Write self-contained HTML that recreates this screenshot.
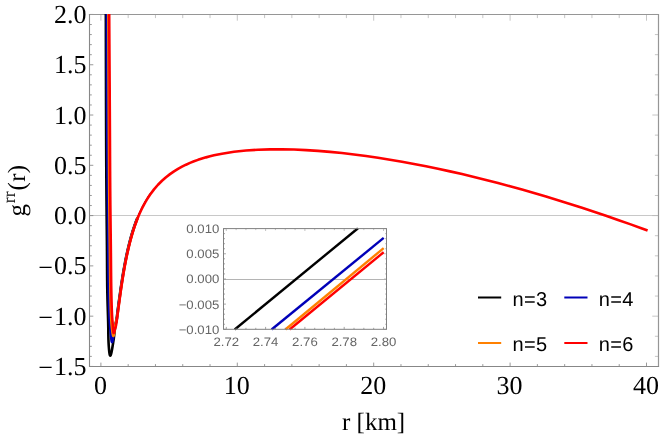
<!DOCTYPE html><html><head><meta charset="utf-8"><style>html,body{margin:0;padding:0;background:#fff}svg{display:block;will-change:transform}text{text-rendering:geometricPrecision}.se{font-family:"Liberation Serif",serif}.sa{font-family:"Liberation Sans",sans-serif}</style></head><body><svg width="664" height="437" viewBox="0 0 664 437">
<rect width="664" height="437" fill="#fff"/>
<line x1="89.5" x2="658.5" y1="215.5" y2="215.5" stroke="#c8c8c8" stroke-width="1"/>
<defs><clipPath id="c"><rect x="89.5" y="14.0" width="569.0" height="352.5"/></clipPath>
<clipPath id="ci"><rect x="223.5" y="227.6" width="163" height="103.2"/></clipPath></defs>
<path d="M100.90 366.5v-3.9M128.18 366.5v-2.4M155.46 366.5v-2.4M182.74 366.5v-2.4M210.02 366.5v-2.4M237.30 366.5v-3.9M264.58 366.5v-2.4M291.86 366.5v-2.4M319.14 366.5v-2.4M346.42 366.5v-2.4M373.70 366.5v-3.9M400.98 366.5v-2.4M428.26 366.5v-2.4M455.54 366.5v-2.4M482.82 366.5v-2.4M510.10 366.5v-3.9M537.38 366.5v-2.4M564.66 366.5v-2.4M591.94 366.5v-2.4M619.22 366.5v-2.4M646.50 366.5v-3.9M89.5 366.45h3.8M89.5 356.40h2.3M89.5 346.34h2.3M89.5 336.28h2.3M89.5 326.23h2.3M89.5 316.17h3.8M89.5 306.11h2.3M89.5 296.06h2.3M89.5 286.00h2.3M89.5 275.94h2.3M89.5 265.88h3.8M89.5 255.83h2.3M89.5 245.77h2.3M89.5 235.71h2.3M89.5 225.66h2.3M89.5 215.60h3.8M89.5 205.54h2.3M89.5 195.49h2.3M89.5 185.43h2.3M89.5 175.37h2.3M89.5 165.31h3.8M89.5 155.26h2.3M89.5 145.20h2.3M89.5 135.14h2.3M89.5 125.09h2.3M89.5 115.03h3.8M89.5 104.97h2.3M89.5 94.92h2.3M89.5 84.86h2.3M89.5 74.80h2.3M89.5 64.75h3.8M89.5 54.69h2.3M89.5 44.63h2.3M89.5 34.57h2.3M89.5 24.52h2.3M89.5 14.46h3.8" stroke="#808080" stroke-width="0.8" fill="none"/>
<path d="M100.90 14.5v6.2M128.18 14.5v3.6M155.46 14.5v3.6M182.74 14.5v3.6M210.02 14.5v3.6M237.30 14.5v6.2M264.58 14.5v3.6M291.86 14.5v3.6M319.14 14.5v3.6M346.42 14.5v3.6M373.70 14.5v6.2M400.98 14.5v3.6M428.26 14.5v3.6M455.54 14.5v3.6M482.82 14.5v3.6M510.10 14.5v6.2M537.38 14.5v3.6M564.66 14.5v3.6M591.94 14.5v3.6M619.22 14.5v3.6M646.50 14.5v6.2M658.5 356.40h-3.6M658.5 336.28h-3.6M658.5 316.17h-6.2M658.5 296.06h-3.6M658.5 275.94h-3.6M658.5 255.83h-3.6M658.5 235.71h-3.6M658.5 215.60h-6.2M658.5 195.49h-3.6M658.5 175.37h-3.6M658.5 155.26h-3.6M658.5 135.14h-3.6M658.5 115.03h-6.2M658.5 94.92h-3.6M658.5 74.80h-3.6M658.5 54.69h-3.6M658.5 34.57h-3.6M658.5 14.46h-6.2" stroke="#b8b8b8" stroke-width="0.8" fill="none"/>
<path d="M89.5 14.5H658.5V366.5" fill="none" stroke="#969696" stroke-width="1.2" stroke-linecap="square"/>
<path d="M89.5 14.5V366.5H658.5" fill="none" stroke="#878787" stroke-width="1.1" stroke-linecap="square"/>
<g clip-path="url(#c)" fill="none" stroke-width="2.6" stroke-linejoin="round">
<path d="M105.85 4.00 L105.85 4.77 L105.85 5.54 L105.85 6.32 L105.85 7.09 L105.85 7.86 L105.85 8.63 L105.85 9.41 L105.85 10.18 L105.85 10.95 L105.85 11.72 L105.85 12.49 L105.85 13.27 L105.85 14.04 L105.85 14.81 L105.85 15.58 L105.85 16.36 L105.85 17.13 L105.85 17.90 L105.85 18.67 L105.85 19.45 L105.85 20.22 L105.85 20.99 L105.86 21.76 L105.86 22.53 L105.86 23.31 L105.86 24.08 L105.86 24.85 L105.86 25.62 L105.86 26.40 L105.86 27.17 L105.86 27.94 L105.86 28.71 L105.86 29.48 L105.87 30.26 L105.87 31.03 L105.87 31.80 L105.87 32.57 L105.87 33.34 L105.87 34.12 L105.87 34.89 L105.87 35.66 L105.88 36.43 L105.88 37.21 L105.88 37.98 L105.88 38.75 L105.88 39.52 L105.88 40.29 L105.88 41.07 L105.89 41.84 L105.89 42.61 L105.89 43.38 L105.89 44.16 L105.89 44.93 L105.89 45.70 L105.89 46.47 L105.90 47.25 L105.90 48.02 L105.90 48.79 L105.90 49.56 L105.90 50.33 L105.90 51.11 L105.91 51.88 L105.91 52.65 L105.91 53.42 L105.91 54.20 L105.91 54.97 L105.92 55.74 L105.92 56.51 L105.92 57.28 L105.92 58.06 L105.92 58.83 L105.92 59.60 L105.93 60.37 L105.93 61.15 L105.93 61.92 L105.93 62.69 L105.93 63.46 L105.94 64.24 L105.94 65.01 L105.94 65.78 L105.94 66.55 L105.94 67.33 L105.95 68.10 L105.95 68.87 L105.95 69.64 L105.95 70.41 L105.95 71.19 L105.95 71.96 L105.96 72.73 L105.96 73.50 L105.96 74.28 L105.96 75.05 L105.96 75.82 L105.97 76.59 L105.97 77.37 L105.97 78.14 L105.97 78.91 L105.97 79.68 L105.98 80.46 L105.98 81.23 L105.98 82.00 L105.98 82.77 L105.98 83.55 L105.99 84.32 L105.99 85.09 L105.99 85.86 L105.99 86.64 L105.99 87.41 L105.99 88.18 L106.00 88.95 L106.00 89.73 L106.00 90.50 L106.00 91.27 L106.00 92.04 L106.01 92.82 L106.01 93.59 L106.01 94.36 L106.01 95.13 L106.01 95.91 L106.02 96.68 L106.02 97.45 L106.02 98.22 L106.02 99.00 L106.02 99.77 L106.03 100.54 L106.03 101.31 L106.03 102.09 L106.03 102.86 L106.03 103.63 L106.04 104.40 L106.04 105.18 L106.04 105.95 L106.04 106.72 L106.05 107.49 L106.05 108.26 L106.05 109.04 L106.05 109.81 L106.05 110.58 L106.06 111.35 L106.06 112.13 L106.06 112.90 L106.06 113.67 L106.07 114.44 L106.07 115.22 L106.07 115.99 L106.07 116.76 L106.07 117.53 L106.08 118.30 L106.08 119.08 L106.08 119.85 L106.08 120.62 L106.09 121.39 L106.09 122.16 L106.09 122.94 L106.09 123.71 L106.10 124.48 L106.10 125.25 L106.10 126.03 L106.10 126.80 L106.11 127.57 L106.11 128.34 L106.11 129.11 L106.11 129.89 L106.12 130.66 L106.12 131.43 L106.12 132.20 L106.12 132.97 L106.13 133.74 L106.13 134.52 L106.13 135.29 L106.14 136.06 L106.14 136.83 L106.14 137.60 L106.14 138.37 L106.15 139.15 L106.15 139.92 L106.15 140.69 L106.16 141.46 L106.16 142.23 L106.16 143.00 L106.16 143.78 L106.17 144.55 L106.17 145.32 L106.17 146.09 L106.18 146.86 L106.18 147.63 L106.18 148.40 L106.19 149.18 L106.19 149.95 L106.19 150.72 L106.20 151.49 L106.20 152.26 L106.20 153.03 L106.21 153.80 L106.21 154.58 L106.21 155.35 L106.22 156.12 L106.22 156.89 L106.22 157.66 L106.23 158.43 L106.23 159.21 L106.23 159.98 L106.24 160.75 L106.24 161.52 L106.25 162.29 L106.25 163.06 L106.25 163.83 L106.26 164.61 L106.26 165.38 L106.27 166.15 L106.27 166.92 L106.27 167.69 L106.28 168.46 L106.28 169.24 L106.29 170.01 L106.29 170.78 L106.30 171.55 L106.30 172.32 L106.30 173.10 L106.31 173.87 L106.31 174.64 L106.32 175.41 L106.32 176.18 L106.33 176.96 L106.33 177.73 L106.34 178.50 L106.34 179.27 L106.35 180.05 L106.35 180.82 L106.36 181.59 L106.36 182.36 L106.37 183.14 L106.37 183.91 L106.38 184.68 L106.38 185.45 L106.39 186.23 L106.40 187.00 L106.40 187.77 L106.41 188.55 L106.41 189.32 L106.42 190.09 L106.42 190.87 L106.43 191.64 L106.44 192.41 L106.44 193.19 L106.45 193.96 L106.46 194.73 L106.46 195.51 L106.47 196.28 L106.47 197.06 L106.48 197.83 L106.49 198.61 L106.49 199.38 L106.50 200.15 L106.51 200.93 L106.52 201.70 L106.52 202.48 L106.53 203.25 L106.54 204.03 L106.54 204.80 L106.55 205.58 L106.56 206.35 L106.57 207.13 L106.57 207.90 L106.58 208.68 L106.59 209.45 L106.60 210.23 L106.60 211.00 L106.61 211.78 L106.62 212.55 L106.63 213.33 L106.63 214.10 L106.64 214.88 L106.65 215.65 L106.66 216.43 L106.67 217.20 L106.67 217.98 L106.68 218.75 L106.69 219.53 L106.70 220.30 L106.70 221.08 L106.71 221.85 L106.72 222.63 L106.73 223.40 L106.74 224.18 L106.74 224.95 L106.75 225.72 L106.76 226.50 L106.77 227.27 L106.77 228.05 L106.78 228.82 L106.79 229.59 L106.80 230.37 L106.81 231.14 L106.81 231.91 L106.82 232.68 L106.83 233.46 L106.83 234.23 L106.84 235.00 L106.85 235.77 L106.86 236.54 L106.86 237.32 L106.87 238.09 L106.88 238.86 L106.88 239.63 L106.89 240.40 L106.90 241.17 L106.90 241.94 L106.91 242.71 L106.92 243.48 L106.92 244.25 L106.93 245.02 L106.94 245.79 L106.94 246.55 L106.95 247.32 L106.95 248.09 L106.96 248.86 L106.96 249.62 L106.97 250.39 L106.98 251.16 L106.98 251.92 L106.99 252.69 L106.99 253.45 L107.00 254.22 L107.00 254.98 L107.00 255.75 L107.01 256.51 L107.01 257.27 L107.02 258.04 L107.02 258.80 L107.03 259.56 L107.03 260.32 L107.03 261.09 L107.04 261.85 L107.04 262.61 L107.04 263.37 L107.05 264.14 L107.05 264.90 L107.06 265.66 L107.06 266.42 L107.06 267.18 L107.07 267.95 L107.07 268.71 L107.08 269.47 L107.08 270.24 L107.09 271.00 L107.09 271.76 L107.10 272.53 L107.10 273.29 L107.11 274.06 L107.11 274.82 L107.12 275.59 L107.12 276.35 L107.13 277.12 L107.14 277.89 L107.14 278.66 L107.15 279.43 L107.16 280.20 L107.17 280.97 L107.18 281.74 L107.18 282.51 L107.19 283.28 L107.20 284.06 L107.21 284.83 L107.22 285.61 L107.23 286.38 L107.24 287.16 L107.26 287.94 L107.27 288.72 L107.28 289.50 L107.29 290.28 L107.31 291.06 L107.32 291.85 L107.33 292.63 L107.35 293.42 L107.37 294.21 L107.38 295.00 L107.40 295.79 L107.42 296.58 L107.44 297.37 L107.45 298.17 L107.47 298.96 L107.49 299.76 L107.51 300.56 L107.54 301.36 L107.56 302.17 L107.58 302.97 L107.60 303.77 L107.63 304.58 L107.65 305.38 L107.68 306.19 L107.70 306.99 L107.73 307.80 L107.75 308.60 L107.78 309.40 L107.80 310.20 L107.83 311.00 L107.85 311.80 L107.88 312.60 L107.90 313.39 L107.93 314.19 L107.95 314.98 L107.98 315.76 L108.00 316.55 L108.02 317.33 L108.05 318.11 L108.07 318.88 L108.09 319.65 L108.11 320.42 L108.13 321.18 L108.15 321.94 L108.17 322.69 L108.19 323.43 L108.20 324.18 L108.22 324.91 L108.23 325.64 L108.25 326.37 L108.26 327.09 L108.27 327.80 L108.28 328.50 L108.29 329.20 L108.30 329.89 L108.31 330.58 L108.31 331.25 L108.31 331.93 L108.32 332.61 L108.32 333.28 L108.33 333.97 L108.34 334.66 L108.34 335.36 L108.35 336.07 L108.37 336.79 L108.38 337.54 L108.40 338.30 L108.42 339.09 L108.45 339.90 L108.48 340.74 L108.52 341.60 L108.56 342.50 L108.61 343.44 L108.66 344.41 L108.73 345.42 L108.80 346.47 L108.87 347.53 L108.96 348.60 L109.05 349.65 L109.15 350.66 L109.25 351.63 L109.36 352.54 L109.48 353.36 L109.61 354.09 L109.75 354.70 L109.89 355.18 L110.04 355.51 L110.20 355.68 L110.37 355.67 L110.54 355.48 L110.72 355.12 L110.90 354.62 L111.09 353.99 L111.28 353.25 L111.47 352.41 L111.66 351.51 L111.85 350.55 L112.03 349.55 L112.21 348.54 L112.38 347.52 L112.55 346.53 L112.70 345.57 L112.85 344.65 L112.99 343.78 L113.12 342.95 L113.25 342.15 L113.36 341.38 L113.48 340.64 L113.58 339.91 L113.68 339.20 L113.78 338.49 L113.87 337.80 L113.96 337.10 L114.05 336.40 L114.14 335.69 L114.22 334.97 L114.31 334.23 L114.40 333.49 L114.48 332.73 L114.57 331.97 L114.66 331.20 L114.75 330.42 L114.84 329.64 L114.94 328.86 L115.04 328.08 L115.14 327.29 L115.25 326.51 L115.36 325.74 L115.48 324.96 L115.61 324.19 L115.74 323.43 L115.87 322.67 L116.00 321.91 L116.13 321.15 L116.26 320.39 L116.39 319.64 L116.51 318.88 L116.63 318.12 L116.75 317.36 L116.86 316.59 L116.97 315.83 L117.08 315.07 L117.18 314.30 L117.29 313.53 L117.39 312.77 L117.49 312.00 L117.59 311.23 L117.68 310.47 L117.78 309.70 L117.88 308.93 L117.98 308.16 L118.08 307.40 L118.18 306.63 L118.28 305.87 L118.38 305.10 L118.49 304.33 L118.59 303.57 L118.69 302.80 L118.80 302.04 L118.90 301.27 L119.01 300.51 L119.11 299.74 L119.22 298.98 L119.32 298.22 L119.43 297.45 L119.54 296.69 L119.64 295.92 L119.75 295.16 L119.86 294.39 L119.96 293.63 L120.07 292.86 L120.18 292.10 L120.29 291.33 L120.40 290.57 L120.51 289.80 L120.62 289.04 L120.73 288.28 L120.84 287.51 L120.95 286.75 L121.07 285.98 L121.18 285.22 L121.30 284.46 L121.41 283.69 L121.53 282.93 L121.65 282.17 L121.76 281.40 L121.88 280.64 L122.00 279.88 L122.12 279.11 L122.25 278.35 L122.37 277.59 L122.49 276.83 L122.62 276.06 L122.74 275.30 L122.87 274.54 L123.00 273.78 L123.12 273.02 L123.25 272.26 L123.38 271.49 L123.52 270.73 L123.65 269.97 L123.78 269.21 L123.92 268.45 L124.05 267.69 L124.19 266.93 L124.33 266.17 L124.47 265.41 L124.61 264.65 L124.75 263.89 L124.90 263.14 L125.04 262.38 L125.19 261.62 L125.34 260.86 L125.49 260.10 L125.64 259.35 L125.79 258.59 L125.94 257.83 L126.10 257.08 L126.26 256.32 L126.41 255.56 L126.57 254.81 L126.74 254.05 L126.90 253.30 L127.06 252.54 L127.23 251.79 L127.40 251.04 L127.57 250.28 L127.74 249.53 L127.92 248.78 L128.09 248.03 L128.27 247.27 L128.45 246.52 L129.95 240.58 L131.45 235.16 L132.95 230.20 L134.45 225.66 L135.95 221.47 L137.45 217.61" stroke="#000"/>
<path d="M137.45 217.61 L138.95 214.03 L140.45 210.71 L141.95 207.62 L143.45 204.73 L144.95 202.03 L146.45 199.50 L147.95 197.12 L149.45 194.88 L150.95 192.77" stroke="#000" stroke-width="1.2"/>
<path d="M106.88 4.00 L106.88 4.72 L106.88 5.45 L106.88 6.17 L106.89 6.90 L106.89 7.62 L106.89 8.35 L106.89 9.07 L106.89 9.79 L106.89 10.52 L106.89 11.24 L106.90 11.97 L106.90 12.69 L106.90 13.42 L106.90 14.14 L106.90 14.86 L106.90 15.59 L106.90 16.31 L106.91 17.04 L106.91 17.76 L106.91 18.49 L106.91 19.21 L106.91 19.94 L106.91 20.66 L106.91 21.38 L106.91 22.11 L106.91 22.83 L106.92 23.56 L106.92 24.28 L106.92 25.00 L106.92 25.73 L106.92 26.45 L106.92 27.18 L106.92 27.90 L106.92 28.63 L106.92 29.35 L106.93 30.07 L106.93 30.80 L106.93 31.52 L106.93 32.25 L106.93 32.97 L106.93 33.70 L106.93 34.42 L106.93 35.14 L106.93 35.87 L106.94 36.59 L106.94 37.32 L106.94 38.04 L106.94 38.77 L106.94 39.49 L106.94 40.21 L106.94 40.94 L106.94 41.66 L106.94 42.39 L106.94 43.11 L106.95 43.84 L106.95 44.56 L106.95 45.28 L106.95 46.01 L106.95 46.73 L106.95 47.46 L106.95 48.18 L106.95 48.91 L106.96 49.63 L106.96 50.36 L106.96 51.08 L106.96 51.80 L106.96 52.53 L106.96 53.25 L106.96 53.98 L106.96 54.70 L106.97 55.43 L106.97 56.15 L106.97 56.87 L106.97 57.60 L106.97 58.32 L106.97 59.05 L106.98 59.77 L106.98 60.50 L106.98 61.22 L106.98 61.95 L106.98 62.67 L106.98 63.39 L106.98 64.12 L106.99 64.84 L106.99 65.57 L106.99 66.29 L106.99 67.02 L106.99 67.74 L107.00 68.47 L107.00 69.19 L107.00 69.91 L107.00 70.64 L107.00 71.36 L107.01 72.09 L107.01 72.81 L107.01 73.54 L107.01 74.26 L107.01 74.99 L107.02 75.71 L107.02 76.44 L107.02 77.16 L107.02 77.88 L107.03 78.61 L107.03 79.33 L107.03 80.06 L107.03 80.78 L107.04 81.51 L107.04 82.23 L107.04 82.96 L107.04 83.68 L107.05 84.41 L107.05 85.13 L107.05 85.85 L107.06 86.58 L107.06 87.30 L107.06 88.03 L107.06 88.75 L107.07 89.48 L107.07 90.20 L107.07 90.93 L107.08 91.65 L107.08 92.38 L107.08 93.10 L107.09 93.82 L107.09 94.55 L107.09 95.27 L107.09 96.00 L107.10 96.72 L107.10 97.45 L107.10 98.17 L107.11 98.90 L107.11 99.62 L107.11 100.35 L107.12 101.07 L107.12 101.79 L107.13 102.52 L107.13 103.24 L107.13 103.97 L107.14 104.69 L107.14 105.42 L107.14 106.14 L107.15 106.87 L107.15 107.59 L107.15 108.32 L107.16 109.04 L107.16 109.76 L107.17 110.49 L107.17 111.21 L107.17 111.94 L107.18 112.66 L107.18 113.39 L107.19 114.11 L107.19 114.83 L107.19 115.56 L107.20 116.28 L107.20 117.01 L107.21 117.73 L107.21 118.46 L107.22 119.18 L107.22 119.90 L107.22 120.63 L107.23 121.35 L107.23 122.08 L107.24 122.80 L107.24 123.52 L107.25 124.25 L107.25 124.97 L107.25 125.70 L107.26 126.42 L107.26 127.15 L107.27 127.87 L107.27 128.59 L107.28 129.32 L107.28 130.04 L107.29 130.76 L107.29 131.49 L107.30 132.21 L107.30 132.94 L107.31 133.66 L107.31 134.38 L107.32 135.11 L107.32 135.83 L107.33 136.56 L107.33 137.28 L107.34 138.00 L107.34 138.73 L107.35 139.45 L107.35 140.17 L107.36 140.90 L107.36 141.62 L107.37 142.34 L107.37 143.07 L107.38 143.79 L107.38 144.51 L107.39 145.24 L107.39 145.96 L107.40 146.68 L107.40 147.41 L107.41 148.13 L107.41 148.86 L107.42 149.58 L107.43 150.30 L107.43 151.03 L107.44 151.75 L107.44 152.47 L107.45 153.20 L107.45 153.92 L107.46 154.64 L107.46 155.37 L107.47 156.09 L107.48 156.81 L107.48 157.54 L107.49 158.26 L107.49 158.98 L107.50 159.71 L107.50 160.43 L107.51 161.15 L107.52 161.88 L107.52 162.60 L107.53 163.32 L107.53 164.05 L107.54 164.77 L107.55 165.49 L107.55 166.22 L107.56 166.94 L107.56 167.67 L107.57 168.39 L107.58 169.11 L107.58 169.84 L107.59 170.56 L107.59 171.28 L107.60 172.01 L107.61 172.73 L107.61 173.46 L107.62 174.18 L107.62 174.90 L107.63 175.63 L107.64 176.35 L107.64 177.08 L107.65 177.80 L107.66 178.53 L107.66 179.25 L107.67 179.97 L107.67 180.70 L107.68 181.42 L107.69 182.15 L107.69 182.87 L107.70 183.60 L107.71 184.32 L107.71 185.05 L107.72 185.77 L107.73 186.50 L107.73 187.22 L107.74 187.95 L107.75 188.67 L107.75 189.40 L107.76 190.13 L107.77 190.85 L107.77 191.58 L107.78 192.30 L107.79 193.03 L107.79 193.75 L107.80 194.48 L107.81 195.21 L107.81 195.93 L107.82 196.66 L107.83 197.39 L107.83 198.11 L107.84 198.84 L107.85 199.57 L107.85 200.29 L107.86 201.02 L107.87 201.75 L107.87 202.47 L107.88 203.20 L107.89 203.93 L107.89 204.66 L107.90 205.38 L107.91 206.11 L107.91 206.84 L107.92 207.57 L107.93 208.29 L107.94 209.02 L107.94 209.75 L107.95 210.48 L107.96 211.20 L107.96 211.93 L107.97 212.66 L107.98 213.39 L107.98 214.11 L107.99 214.84 L108.00 215.57 L108.00 216.30 L108.01 217.02 L108.02 217.75 L108.02 218.48 L108.03 219.21 L108.04 219.93 L108.05 220.66 L108.05 221.39 L108.06 222.12 L108.07 222.84 L108.07 223.57 L108.08 224.30 L108.09 225.02 L108.09 225.75 L108.10 226.47 L108.11 227.20 L108.11 227.93 L108.12 228.65 L108.13 229.38 L108.13 230.10 L108.14 230.83 L108.15 231.55 L108.15 232.28 L108.16 233.00 L108.17 233.73 L108.17 234.45 L108.18 235.18 L108.19 235.90 L108.19 236.62 L108.20 237.35 L108.21 238.07 L108.21 238.79 L108.22 239.52 L108.23 240.24 L108.23 240.96 L108.24 241.68 L108.24 242.40 L108.25 243.13 L108.26 243.85 L108.26 244.57 L108.27 245.29 L108.28 246.01 L108.28 246.73 L108.29 247.45 L108.29 248.16 L108.30 248.88 L108.31 249.60 L108.31 250.32 L108.32 251.04 L108.32 251.75 L108.33 252.47 L108.34 253.19 L108.34 253.90 L108.35 254.62 L108.35 255.33 L108.36 256.05 L108.36 256.76 L108.37 257.48 L108.37 258.19 L108.38 258.90 L108.39 259.62 L108.39 260.33 L108.40 261.04 L108.40 261.76 L108.41 262.47 L108.41 263.18 L108.42 263.89 L108.43 264.61 L108.43 265.32 L108.44 266.03 L108.44 266.75 L108.45 267.46 L108.46 268.17 L108.46 268.89 L108.47 269.60 L108.47 270.31 L108.48 271.03 L108.49 271.74 L108.50 272.46 L108.50 273.17 L108.51 273.89 L108.52 274.61 L108.53 275.32 L108.53 276.04 L108.54 276.76 L108.55 277.48 L108.56 278.20 L108.57 278.92 L108.58 279.64 L108.58 280.36 L108.59 281.08 L108.60 281.80 L108.61 282.53 L108.62 283.25 L108.63 283.98 L108.65 284.71 L108.66 285.43 L108.67 286.16 L108.68 286.89 L108.69 287.62 L108.70 288.36 L108.72 289.09 L108.73 289.82 L108.74 290.56 L108.76 291.30 L108.77 292.03 L108.79 292.77 L108.80 293.52 L108.82 294.26 L108.83 295.00 L108.85 295.75 L108.87 296.49 L108.88 297.24 L108.90 297.99 L108.92 298.75 L108.94 299.50 L108.96 300.25 L108.98 301.01 L109.00 301.77 L109.02 302.53 L109.04 303.29 L109.06 304.04 L109.08 304.80 L109.10 305.56 L109.13 306.31 L109.15 307.07 L109.17 307.82 L109.20 308.57 L109.22 309.31 L109.25 310.05 L109.28 310.79 L109.30 311.52 L109.33 312.25 L109.36 312.98 L109.39 313.69 L109.42 314.40 L109.45 315.11 L109.48 315.80 L109.52 316.49 L109.55 317.17 L109.58 317.85 L109.62 318.51 L109.65 319.17 L109.69 319.81 L109.73 320.45 L109.76 321.07 L109.80 321.70 L109.84 322.31 L109.89 322.93 L109.93 323.56 L109.97 324.19 L110.02 324.83 L110.07 325.48 L110.12 326.15 L110.18 326.83 L110.24 327.54 L110.30 328.27 L110.36 329.03 L110.43 329.82 L110.50 330.64 L110.58 331.50 L110.66 332.40 L110.74 333.33 L110.83 334.32 L110.92 335.34 L111.02 336.37 L111.12 337.39 L111.23 338.37 L111.34 339.29 L111.46 340.11 L111.58 340.82 L111.70 341.39 L111.84 341.79 L111.98 342.00 L112.12 341.99 L112.27 341.74 L112.42 341.29 L112.57 340.68 L112.72 339.93 L112.87 339.08 L113.01 338.17 L113.14 337.23 L113.26 336.29 L113.37 335.39 L113.47 334.54 L113.56 333.74 L113.64 332.97 L113.72 332.23 L113.80 331.52 L113.88 330.84 L113.97 330.17 L114.07 329.51 L114.18 328.86 L114.31 328.22 L114.45 327.57 L114.62 326.92 L114.81 326.25 L115.02 325.58 L115.24 324.89 L115.47 324.20 L115.70 323.50 L115.93 322.80 L116.15 322.09 L116.35 321.38 L116.54 320.67 L116.70 319.96 L116.85 319.24 L116.98 318.53 L117.10 317.81 L117.20 317.10 L117.30 316.38 L117.38 315.66 L117.46 314.94 L117.54 314.22 L117.61 313.50 L117.67 312.78 L117.74 312.06 L117.81 311.34 L117.88 310.62 L117.96 309.91 L118.04 309.19 L118.12 308.47 L118.21 307.75 L118.30 307.03 L118.40 306.31 L118.50 305.60 L118.60 304.88 L118.70 304.16 L118.80 303.44 L118.91 302.73 L119.01 302.01 L119.12 301.29 L119.22 300.57 L119.33 299.86 L119.43 299.14 L119.53 298.42 L119.64 297.70 L119.74 296.99 L119.84 296.27 L119.94 295.55 L120.04 294.83 L120.14 294.12 L120.24 293.40 L120.34 292.68 L120.44 291.97 L120.54 291.25 L120.64 290.53 L120.74 289.81 L120.84 289.10 L120.94 288.38 L121.05 287.66 L121.15 286.95 L121.26 286.23 L121.36 285.51 L121.47 284.80 L121.58 284.08 L121.69 283.37 L121.80 282.65 L121.91 281.93 L122.02 281.22 L122.13 280.50 L122.25 279.79 L122.36 279.07 L122.48 278.36 L122.59 277.64 L122.71 276.93 L122.82 276.21 L122.94 275.50 L123.06 274.78 L123.18 274.07 L123.30 273.35 L123.42 272.64 L123.54 271.92 L123.66 271.21 L123.79 270.50 L123.91 269.78 L124.04 269.07 L124.16 268.36 L124.29 267.64 L124.42 266.93 L124.55 266.22 L124.68 265.51 L124.81 264.79 L124.95 264.08 L125.08 263.37 L125.22 262.66 L125.36 261.95 L125.49 261.24 L125.63 260.53 L125.77 259.82 L125.92 259.11 L126.06 258.40 L126.20 257.69 L126.35 256.98 L126.50 256.27 L126.65 255.56 L126.80 254.85 L126.95 254.14 L127.10 253.43 L127.25 252.73 L127.41 252.02 L127.57 251.31 L127.73 250.60 L127.89 249.90 L128.05 249.19 L128.21 248.49 L128.38 247.78 L129.88 241.72 L131.38 236.20 L132.88 231.16 L134.38 226.54 L135.88 222.28 L137.38 218.36" stroke="#0000b8"/>
<path d="M137.38 218.36 L138.88 214.73 L140.38 211.36 L141.88 208.22 L143.38 205.29 L144.88 202.55 L146.38 199.99 L147.88 197.58 L149.38 195.32 L150.88 193.18" stroke="#0000b8" stroke-width="1.2"/>
<path d="M108.35 4.00 L108.35 4.71 L108.36 5.42 L108.36 6.13 L108.37 6.83 L108.37 7.54 L108.37 8.25 L108.38 8.96 L108.38 9.67 L108.38 10.37 L108.39 11.08 L108.39 11.79 L108.39 12.50 L108.40 13.21 L108.40 13.92 L108.40 14.62 L108.41 15.33 L108.41 16.04 L108.41 16.75 L108.42 17.46 L108.42 18.17 L108.42 18.87 L108.42 19.58 L108.43 20.29 L108.43 21.00 L108.43 21.71 L108.44 22.42 L108.44 23.12 L108.44 23.83 L108.44 24.54 L108.45 25.25 L108.45 25.96 L108.45 26.67 L108.45 27.37 L108.46 28.08 L108.46 28.79 L108.46 29.50 L108.46 30.21 L108.47 30.91 L108.47 31.62 L108.47 32.33 L108.47 33.04 L108.48 33.75 L108.48 34.46 L108.48 35.16 L108.48 35.87 L108.49 36.58 L108.49 37.29 L108.49 38.00 L108.49 38.71 L108.50 39.41 L108.50 40.12 L108.50 40.83 L108.50 41.54 L108.50 42.25 L108.51 42.96 L108.51 43.66 L108.51 44.37 L108.51 45.08 L108.52 45.79 L108.52 46.50 L108.52 47.21 L108.52 47.91 L108.52 48.62 L108.53 49.33 L108.53 50.04 L108.53 50.75 L108.53 51.46 L108.54 52.16 L108.54 52.87 L108.54 53.58 L108.54 54.29 L108.55 55.00 L108.55 55.71 L108.55 56.41 L108.55 57.12 L108.56 57.83 L108.56 58.54 L108.56 59.25 L108.56 59.96 L108.57 60.66 L108.57 61.37 L108.57 62.08 L108.57 62.79 L108.58 63.50 L108.58 64.21 L108.58 64.91 L108.58 65.62 L108.59 66.33 L108.59 67.04 L108.59 67.75 L108.59 68.46 L108.60 69.17 L108.60 69.87 L108.60 70.58 L108.61 71.29 L108.61 72.00 L108.61 72.71 L108.61 73.42 L108.62 74.12 L108.62 74.83 L108.62 75.54 L108.63 76.25 L108.63 76.96 L108.63 77.67 L108.64 78.38 L108.64 79.08 L108.64 79.79 L108.65 80.50 L108.65 81.21 L108.65 81.92 L108.66 82.63 L108.66 83.34 L108.66 84.04 L108.67 84.75 L108.67 85.46 L108.67 86.17 L108.68 86.88 L108.68 87.59 L108.68 88.30 L108.69 89.00 L108.69 89.71 L108.69 90.42 L108.70 91.13 L108.70 91.84 L108.70 92.55 L108.71 93.26 L108.71 93.96 L108.71 94.67 L108.72 95.38 L108.72 96.09 L108.73 96.80 L108.73 97.51 L108.73 98.22 L108.74 98.92 L108.74 99.63 L108.74 100.34 L108.75 101.05 L108.75 101.76 L108.76 102.47 L108.76 103.17 L108.76 103.88 L108.77 104.59 L108.77 105.30 L108.77 106.01 L108.78 106.72 L108.78 107.43 L108.79 108.13 L108.79 108.84 L108.79 109.55 L108.80 110.26 L108.80 110.97 L108.80 111.68 L108.81 112.38 L108.81 113.09 L108.82 113.80 L108.82 114.51 L108.82 115.22 L108.83 115.93 L108.83 116.63 L108.84 117.34 L108.84 118.05 L108.84 118.76 L108.85 119.47 L108.85 120.17 L108.85 120.88 L108.86 121.59 L108.86 122.30 L108.87 123.01 L108.87 123.72 L108.87 124.42 L108.88 125.13 L108.88 125.84 L108.88 126.55 L108.89 127.26 L108.89 127.96 L108.89 128.67 L108.90 129.38 L108.90 130.09 L108.91 130.80 L108.91 131.50 L108.91 132.21 L108.92 132.92 L108.92 133.63 L108.92 134.34 L108.93 135.04 L108.93 135.75 L108.93 136.46 L108.94 137.17 L108.94 137.87 L108.94 138.58 L108.95 139.29 L108.95 140.00 L108.95 140.70 L108.96 141.41 L108.96 142.12 L108.96 142.83 L108.97 143.53 L108.97 144.24 L108.97 144.95 L108.98 145.66 L108.98 146.36 L108.98 147.07 L108.99 147.78 L108.99 148.49 L108.99 149.19 L108.99 149.90 L109.00 150.61 L109.00 151.32 L109.00 152.02 L109.01 152.73 L109.01 153.44 L109.01 154.15 L109.02 154.85 L109.02 155.56 L109.02 156.27 L109.03 156.98 L109.03 157.68 L109.03 158.39 L109.04 159.10 L109.04 159.81 L109.04 160.51 L109.05 161.22 L109.05 161.93 L109.05 162.64 L109.06 163.34 L109.06 164.05 L109.06 164.76 L109.07 165.47 L109.07 166.17 L109.07 166.88 L109.08 167.59 L109.08 168.30 L109.08 169.01 L109.09 169.71 L109.09 170.42 L109.09 171.13 L109.10 171.84 L109.10 172.55 L109.11 173.25 L109.11 173.96 L109.11 174.67 L109.12 175.38 L109.12 176.09 L109.13 176.79 L109.13 177.50 L109.13 178.21 L109.14 178.92 L109.14 179.63 L109.15 180.34 L109.15 181.05 L109.16 181.75 L109.16 182.46 L109.17 183.17 L109.17 183.88 L109.18 184.59 L109.18 185.30 L109.19 186.01 L109.19 186.72 L109.20 187.43 L109.20 188.13 L109.21 188.84 L109.21 189.55 L109.22 190.26 L109.22 190.97 L109.23 191.68 L109.23 192.39 L109.24 193.10 L109.24 193.81 L109.25 194.52 L109.26 195.23 L109.26 195.94 L109.27 196.65 L109.28 197.36 L109.28 198.07 L109.29 198.78 L109.30 199.49 L109.30 200.20 L109.31 200.92 L109.32 201.63 L109.32 202.34 L109.33 203.05 L109.34 203.76 L109.34 204.47 L109.35 205.18 L109.36 205.89 L109.37 206.60 L109.37 207.32 L109.38 208.03 L109.39 208.74 L109.40 209.45 L109.41 210.16 L109.41 210.87 L109.42 211.58 L109.43 212.30 L109.44 213.01 L109.45 213.72 L109.46 214.43 L109.46 215.14 L109.47 215.85 L109.48 216.56 L109.49 217.28 L109.50 217.99 L109.51 218.70 L109.52 219.41 L109.52 220.12 L109.53 220.83 L109.54 221.54 L109.55 222.25 L109.56 222.96 L109.57 223.67 L109.58 224.38 L109.59 225.09 L109.60 225.81 L109.60 226.52 L109.61 227.23 L109.62 227.94 L109.63 228.64 L109.64 229.35 L109.65 230.06 L109.66 230.77 L109.67 231.48 L109.68 232.19 L109.69 232.90 L109.69 233.61 L109.70 234.32 L109.71 235.02 L109.72 235.73 L109.73 236.44 L109.74 237.15 L109.75 237.85 L109.76 238.56 L109.77 239.27 L109.77 239.97 L109.78 240.68 L109.79 241.39 L109.80 242.09 L109.81 242.80 L109.82 243.50 L109.83 244.21 L109.83 244.91 L109.84 245.62 L109.85 246.32 L109.86 247.03 L109.87 247.73 L109.88 248.43 L109.88 249.13 L109.89 249.84 L109.90 250.54 L109.91 251.24 L109.92 251.94 L109.92 252.64 L109.93 253.34 L109.94 254.04 L109.95 254.74 L109.95 255.44 L109.96 256.14 L109.97 256.84 L109.98 257.54 L109.98 258.24 L109.99 258.94 L110.00 259.63 L110.01 260.33 L110.01 261.03 L110.02 261.73 L110.03 262.42 L110.03 263.12 L110.04 263.82 L110.05 264.52 L110.05 265.21 L110.06 265.91 L110.07 266.61 L110.08 267.31 L110.08 268.00 L110.09 268.70 L110.10 269.40 L110.11 270.10 L110.11 270.80 L110.12 271.50 L110.13 272.19 L110.14 272.89 L110.14 273.59 L110.15 274.29 L110.16 275.00 L110.17 275.70 L110.18 276.40 L110.19 277.10 L110.20 277.81 L110.21 278.51 L110.21 279.21 L110.22 279.92 L110.23 280.63 L110.24 281.33 L110.25 282.04 L110.26 282.75 L110.27 283.46 L110.29 284.17 L110.30 284.88 L110.31 285.59 L110.32 286.30 L110.33 287.02 L110.34 287.73 L110.36 288.45 L110.37 289.16 L110.38 289.88 L110.40 290.60 L110.41 291.32 L110.42 292.04 L110.44 292.77 L110.45 293.49 L110.47 294.22 L110.48 294.94 L110.50 295.67 L110.51 296.40 L110.53 297.13 L110.55 297.86 L110.57 298.60 L110.58 299.33 L110.60 300.07 L110.62 300.81 L110.64 301.55 L110.66 302.29 L110.68 303.03 L110.70 303.77 L110.72 304.51 L110.74 305.25 L110.76 305.98 L110.79 306.72 L110.81 307.45 L110.83 308.18 L110.85 308.90 L110.88 309.63 L110.90 310.34 L110.93 311.05 L110.95 311.76 L110.98 312.46 L111.00 313.15 L111.03 313.84 L111.05 314.52 L111.08 315.19 L111.11 315.86 L111.13 316.51 L111.16 317.16 L111.19 317.79 L111.22 318.42 L111.25 319.04 L111.28 319.65 L111.31 320.27 L111.35 320.88 L111.38 321.50 L111.43 322.13 L111.47 322.77 L111.52 323.43 L111.58 324.11 L111.64 324.81 L111.71 325.54 L111.78 326.30 L111.86 327.09 L111.95 327.91 L112.05 328.78 L112.16 329.69 L112.28 330.65 L112.41 331.62 L112.54 332.59 L112.68 333.50 L112.82 334.32 L112.97 335.02 L113.12 335.56 L113.26 335.90 L113.40 336.00 L113.54 335.84 L113.68 335.45 L113.81 334.88 L113.94 334.15 L114.06 333.31 L114.19 332.40 L114.31 331.45 L114.43 330.52 L114.55 329.64 L114.67 328.82 L114.79 328.06 L114.91 327.34 L115.04 326.67 L115.16 326.02 L115.30 325.38 L115.43 324.75 L115.57 324.12 L115.72 323.48 L115.87 322.82 L116.03 322.14 L116.19 321.46 L116.34 320.76 L116.50 320.06 L116.66 319.35 L116.81 318.64 L116.95 317.93 L117.09 317.22 L117.22 316.50 L117.35 315.80 L117.46 315.09 L117.57 314.38 L117.68 313.68 L117.77 312.98 L117.87 312.28 L117.96 311.58 L118.04 310.88 L118.13 310.18 L118.21 309.48 L118.29 308.78 L118.37 308.08 L118.45 307.38 L118.54 306.69 L118.62 305.99 L118.71 305.29 L118.80 304.59 L118.89 303.89 L118.98 303.18 L119.07 302.48 L119.17 301.78 L119.26 301.08 L119.36 300.38 L119.46 299.67 L119.55 298.97 L119.65 298.27 L119.75 297.57 L119.85 296.86 L119.95 296.16 L120.05 295.46 L120.16 294.76 L120.26 294.05 L120.36 293.35 L120.46 292.65 L120.56 291.95 L120.66 291.25 L120.76 290.55 L120.86 289.85 L120.96 289.14 L121.06 288.44 L121.16 287.74 L121.26 287.04 L121.37 286.34 L121.47 285.64 L121.57 284.94 L121.68 284.24 L121.79 283.54 L121.89 282.84 L122.00 282.14 L122.11 281.44 L122.22 280.74 L122.33 280.04 L122.44 279.34 L122.55 278.64 L122.66 277.94 L122.77 277.24 L122.89 276.54 L123.00 275.84 L123.12 275.15 L123.23 274.45 L123.35 273.75 L123.47 273.05 L123.59 272.35 L123.71 271.65 L123.83 270.96 L123.95 270.26 L124.07 269.56 L124.19 268.86 L124.32 268.17 L124.44 267.47 L124.57 266.77 L124.70 266.07 L124.83 265.38 L124.96 264.68 L125.09 263.99 L125.22 263.29 L125.35 262.59 L125.48 261.90 L125.62 261.20 L125.76 260.51 L125.89 259.81 L126.03 259.12 L126.17 258.42 L126.31 257.73 L126.46 257.04 L126.60 256.34 L126.75 255.65 L126.89 254.96 L127.04 254.26 L127.19 253.57 L127.34 252.88 L127.49 252.19 L127.65 251.50 L127.80 250.80 L127.96 250.11 L128.12 249.42 L128.28 248.73 L128.44 248.04 L128.60 247.35 L128.77 246.66 L128.93 245.98 L129.10 245.29 L130.60 239.45 L132.10 234.13 L133.60 229.26 L135.10 224.79 L136.60 220.68 L138.10 216.87" stroke="#ff8000"/>
<path d="M138.10 216.87 L139.60 213.35 L141.10 210.07 L142.60 207.02 L144.10 204.17 L145.60 201.51 L147.10 199.01 L148.60 196.66 L150.10 194.45" stroke="#ff8000" stroke-width="1.2"/>
<path d="M109.15 4.00 L109.15 4.69 L109.16 5.37 L109.16 6.06 L109.16 6.74 L109.17 7.43 L109.17 8.11 L109.17 8.80 L109.18 9.49 L109.18 10.17 L109.18 10.86 L109.19 11.54 L109.19 12.23 L109.19 12.91 L109.20 13.60 L109.20 14.29 L109.21 14.97 L109.21 15.66 L109.21 16.34 L109.22 17.03 L109.22 17.71 L109.22 18.40 L109.23 19.09 L109.23 19.77 L109.24 20.46 L109.24 21.14 L109.24 21.83 L109.25 22.51 L109.25 23.20 L109.26 23.88 L109.26 24.57 L109.26 25.26 L109.27 25.94 L109.27 26.63 L109.28 27.31 L109.28 28.00 L109.28 28.68 L109.29 29.37 L109.29 30.06 L109.30 30.74 L109.30 31.43 L109.30 32.11 L109.31 32.80 L109.31 33.48 L109.32 34.17 L109.32 34.85 L109.33 35.54 L109.33 36.23 L109.33 36.91 L109.34 37.60 L109.34 38.28 L109.35 38.97 L109.35 39.65 L109.36 40.34 L109.36 41.03 L109.36 41.71 L109.37 42.40 L109.37 43.08 L109.38 43.77 L109.38 44.45 L109.39 45.14 L109.39 45.82 L109.40 46.51 L109.40 47.20 L109.40 47.88 L109.41 48.57 L109.41 49.25 L109.42 49.94 L109.42 50.62 L109.43 51.31 L109.43 52.00 L109.44 52.68 L109.44 53.37 L109.45 54.05 L109.45 54.74 L109.45 55.42 L109.46 56.11 L109.46 56.80 L109.47 57.48 L109.47 58.17 L109.48 58.85 L109.48 59.54 L109.49 60.23 L109.49 60.91 L109.49 61.60 L109.50 62.28 L109.50 62.97 L109.51 63.65 L109.51 64.34 L109.52 65.03 L109.52 65.71 L109.53 66.40 L109.53 67.08 L109.54 67.77 L109.54 68.46 L109.54 69.14 L109.55 69.83 L109.55 70.51 L109.56 71.20 L109.56 71.88 L109.57 72.57 L109.57 73.26 L109.58 73.94 L109.58 74.63 L109.58 75.31 L109.59 76.00 L109.59 76.69 L109.60 77.37 L109.60 78.06 L109.61 78.74 L109.61 79.43 L109.61 80.12 L109.62 80.80 L109.62 81.49 L109.63 82.17 L109.63 82.86 L109.64 83.55 L109.64 84.23 L109.65 84.92 L109.65 85.60 L109.65 86.29 L109.66 86.98 L109.66 87.66 L109.67 88.35 L109.67 89.03 L109.67 89.72 L109.68 90.41 L109.68 91.09 L109.69 91.78 L109.69 92.46 L109.70 93.15 L109.70 93.84 L109.70 94.52 L109.71 95.21 L109.71 95.89 L109.72 96.58 L109.72 97.27 L109.72 97.95 L109.73 98.64 L109.73 99.32 L109.74 100.01 L109.74 100.70 L109.74 101.38 L109.75 102.07 L109.75 102.75 L109.76 103.44 L109.76 104.13 L109.76 104.81 L109.77 105.50 L109.77 106.18 L109.78 106.87 L109.78 107.55 L109.78 108.24 L109.79 108.93 L109.79 109.61 L109.80 110.30 L109.80 110.98 L109.80 111.67 L109.81 112.35 L109.81 113.04 L109.82 113.73 L109.82 114.41 L109.82 115.10 L109.83 115.78 L109.83 116.47 L109.83 117.15 L109.84 117.84 L109.84 118.53 L109.85 119.21 L109.85 119.90 L109.85 120.58 L109.86 121.27 L109.86 121.95 L109.86 122.64 L109.87 123.32 L109.87 124.01 L109.87 124.70 L109.88 125.38 L109.88 126.07 L109.88 126.75 L109.89 127.44 L109.89 128.12 L109.90 128.81 L109.90 129.49 L109.90 130.18 L109.91 130.86 L109.91 131.55 L109.91 132.23 L109.92 132.92 L109.92 133.60 L109.92 134.29 L109.93 134.97 L109.93 135.66 L109.93 136.34 L109.94 137.03 L109.94 137.71 L109.94 138.40 L109.95 139.08 L109.95 139.77 L109.95 140.45 L109.96 141.14 L109.96 141.82 L109.96 142.51 L109.96 143.19 L109.97 143.88 L109.97 144.56 L109.97 145.25 L109.98 145.93 L109.98 146.62 L109.98 147.30 L109.99 147.98 L109.99 148.67 L109.99 149.35 L110.00 150.04 L110.00 150.72 L110.00 151.41 L110.01 152.09 L110.01 152.78 L110.01 153.46 L110.01 154.15 L110.02 154.83 L110.02 155.51 L110.02 156.20 L110.03 156.88 L110.03 157.57 L110.03 158.25 L110.04 158.94 L110.04 159.62 L110.04 160.31 L110.05 160.99 L110.05 161.68 L110.05 162.36 L110.06 163.05 L110.06 163.73 L110.06 164.42 L110.07 165.10 L110.07 165.79 L110.07 166.47 L110.08 167.16 L110.08 167.84 L110.08 168.53 L110.09 169.21 L110.09 169.90 L110.09 170.58 L110.10 171.27 L110.10 171.95 L110.11 172.64 L110.11 173.32 L110.11 174.01 L110.12 174.69 L110.12 175.38 L110.12 176.06 L110.13 176.75 L110.13 177.44 L110.14 178.12 L110.14 178.81 L110.14 179.49 L110.15 180.18 L110.15 180.87 L110.16 181.55 L110.16 182.24 L110.17 182.92 L110.17 183.61 L110.18 184.30 L110.18 184.98 L110.19 185.67 L110.19 186.36 L110.19 187.04 L110.20 187.73 L110.20 188.42 L110.21 189.10 L110.21 189.79 L110.22 190.48 L110.23 191.17 L110.23 191.85 L110.24 192.54 L110.24 193.23 L110.25 193.92 L110.25 194.60 L110.26 195.29 L110.26 195.98 L110.27 196.67 L110.28 197.36 L110.28 198.04 L110.29 198.73 L110.29 199.42 L110.30 200.11 L110.31 200.80 L110.31 201.49 L110.32 202.18 L110.33 202.87 L110.33 203.56 L110.34 204.24 L110.35 204.93 L110.35 205.62 L110.36 206.31 L110.37 207.00 L110.38 207.69 L110.38 208.38 L110.39 209.07 L110.40 209.76 L110.41 210.45 L110.41 211.14 L110.42 211.83 L110.43 212.52 L110.44 213.21 L110.44 213.90 L110.45 214.59 L110.46 215.28 L110.47 215.97 L110.47 216.66 L110.48 217.35 L110.49 218.04 L110.50 218.73 L110.51 219.41 L110.51 220.10 L110.52 220.79 L110.53 221.48 L110.54 222.17 L110.55 222.86 L110.55 223.55 L110.56 224.24 L110.57 224.93 L110.58 225.61 L110.59 226.30 L110.59 226.99 L110.60 227.68 L110.61 228.36 L110.62 229.05 L110.63 229.74 L110.63 230.43 L110.64 231.11 L110.65 231.80 L110.66 232.49 L110.67 233.17 L110.67 233.86 L110.68 234.54 L110.69 235.23 L110.70 235.91 L110.71 236.60 L110.71 237.28 L110.72 237.97 L110.73 238.65 L110.74 239.34 L110.75 240.02 L110.75 240.70 L110.76 241.38 L110.77 242.07 L110.78 242.75 L110.78 243.43 L110.79 244.11 L110.80 244.79 L110.81 245.47 L110.81 246.15 L110.82 246.83 L110.83 247.51 L110.83 248.19 L110.84 248.87 L110.85 249.55 L110.85 250.23 L110.86 250.91 L110.87 251.58 L110.87 252.26 L110.88 252.94 L110.89 253.61 L110.89 254.29 L110.90 254.96 L110.91 255.64 L110.91 256.31 L110.92 256.99 L110.92 257.66 L110.93 258.33 L110.94 259.00 L110.94 259.68 L110.95 260.35 L110.95 261.02 L110.96 261.69 L110.96 262.37 L110.97 263.04 L110.98 263.71 L110.98 264.38 L110.99 265.05 L110.99 265.72 L111.00 266.40 L111.00 267.07 L111.01 267.74 L111.02 268.41 L111.02 269.09 L111.03 269.76 L111.03 270.43 L111.04 271.11 L111.05 271.78 L111.05 272.45 L111.06 273.13 L111.07 273.81 L111.07 274.48 L111.08 275.16 L111.09 275.84 L111.10 276.51 L111.10 277.19 L111.11 277.87 L111.12 278.55 L111.13 279.23 L111.14 279.92 L111.14 280.60 L111.15 281.28 L111.16 281.97 L111.17 282.65 L111.18 283.34 L111.19 284.03 L111.20 284.72 L111.21 285.41 L111.22 286.10 L111.23 286.79 L111.24 287.48 L111.25 288.18 L111.27 288.88 L111.28 289.57 L111.29 290.27 L111.30 290.97 L111.32 291.67 L111.33 292.38 L111.34 293.08 L111.36 293.79 L111.37 294.50 L111.39 295.21 L111.40 295.92 L111.42 296.63 L111.44 297.35 L111.45 298.07 L111.47 298.78 L111.49 299.50 L111.51 300.23 L111.52 300.95 L111.54 301.68 L111.56 302.40 L111.58 303.13 L111.60 303.86 L111.62 304.58 L111.65 305.30 L111.67 306.03 L111.69 306.75 L111.72 307.46 L111.74 308.17 L111.77 308.88 L111.79 309.59 L111.82 310.29 L111.85 310.98 L111.88 311.66 L111.91 312.34 L111.94 313.02 L111.97 313.68 L112.01 314.34 L112.04 314.99 L112.08 315.62 L112.12 316.25 L112.15 316.87 L112.19 317.47 L112.23 318.07 L112.28 318.65 L112.32 319.22 L112.36 319.80 L112.41 320.37 L112.46 320.96 L112.51 321.57 L112.56 322.20 L112.61 322.87 L112.66 323.57 L112.72 324.31 L112.77 325.11 L112.83 325.97 L112.89 326.89 L112.95 327.87 L113.02 328.89 L113.09 329.89 L113.17 330.83 L113.27 331.66 L113.37 332.34 L113.50 332.82 L113.64 333.05 L113.81 332.99 L113.99 332.62 L114.20 332.01 L114.41 331.25 L114.63 330.44 L114.84 329.67 L115.05 328.98 L115.25 328.34 L115.44 327.72 L115.61 327.10 L115.77 326.47 L115.91 325.83 L116.05 325.17 L116.17 324.50 L116.29 323.82 L116.40 323.14 L116.50 322.45 L116.60 321.76 L116.69 321.06 L116.78 320.36 L116.87 319.66 L116.95 318.97 L117.04 318.27 L117.13 317.58 L117.22 316.89 L117.31 316.20 L117.40 315.52 L117.49 314.84 L117.59 314.16 L117.68 313.48 L117.78 312.80 L117.87 312.13 L117.97 311.45 L118.06 310.78 L118.16 310.11 L118.25 309.43 L118.35 308.76 L118.44 308.08 L118.53 307.41 L118.63 306.73 L118.72 306.06 L118.81 305.38 L118.90 304.70 L119.00 304.02 L119.09 303.34 L119.18 302.66 L119.27 301.98 L119.36 301.30 L119.45 300.62 L119.54 299.94 L119.64 299.26 L119.73 298.58 L119.82 297.90 L119.91 297.22 L120.01 296.54 L120.10 295.85 L120.19 295.17 L120.29 294.50 L120.38 293.82 L120.48 293.14 L120.58 292.46 L120.67 291.78 L120.77 291.10 L120.87 290.42 L120.96 289.74 L121.06 289.07 L121.16 288.39 L121.26 287.71 L121.36 287.03 L121.46 286.35 L121.56 285.68 L121.67 285.00 L121.77 284.32 L121.87 283.64 L121.98 282.96 L122.08 282.29 L122.18 281.61 L122.29 280.93 L122.40 280.25 L122.50 279.58 L122.61 278.90 L122.72 278.22 L122.83 277.54 L122.94 276.87 L123.05 276.19 L123.16 275.51 L123.27 274.84 L123.38 274.16 L123.49 273.48 L123.61 272.81 L123.72 272.13 L123.84 271.46 L123.96 270.78 L124.08 270.11 L124.19 269.43 L124.31 268.75 L124.43 268.08 L124.56 267.40 L124.68 266.73 L124.80 266.06 L124.93 265.38 L125.05 264.71 L125.18 264.03 L125.30 263.36 L125.43 262.69 L125.56 262.01 L125.69 261.34 L125.83 260.67 L125.96 259.99 L126.09 259.32 L126.23 258.65 L126.36 257.98 L126.50 257.30 L126.64 256.63 L126.78 255.96 L126.92 255.29 L127.06 254.62 L127.21 253.95 L127.35 253.28 L127.50 252.61 L129.00 246.11 L130.50 240.20 L132.00 234.82 L133.50 229.89 L135.00 225.37 L136.50 221.21 L138.00 217.36 L139.50 213.80 L141.00 210.50 L142.50 207.42 L144.00 204.54 L145.50 201.85 L147.00 199.33 L148.50 196.96 L150.00 194.74 L154.00 189.39 L158.00 184.77 L162.00 180.75 L166.00 177.23 L170.00 174.11 L174.00 171.34 L178.00 168.88 L182.00 166.67 L186.00 164.69 L190.00 162.91 L194.00 161.31 L198.00 159.86 L202.00 158.55 L206.00 157.37 L210.00 156.31 L214.00 155.34 L218.00 154.48 L222.00 153.70 L234.00 151.83 L246.00 150.55 L258.00 149.74 L270.00 149.34 L282.00 149.29 L294.00 149.55 L306.00 150.08 L318.00 150.85 L330.00 151.85 L342.00 153.05 L354.00 154.45 L366.00 156.02 L378.00 157.76 L390.00 159.67 L402.00 161.72 L414.00 163.93 L426.00 166.27 L438.00 168.75 L450.00 171.36 L462.00 174.10 L474.00 176.96 L486.00 179.94 L498.00 183.04 L510.00 186.25 L522.00 189.57 L534.00 193.00 L546.00 196.54 L558.00 200.19 L570.00 203.93 L582.00 207.78 L594.00 211.73 L606.00 215.77 L618.00 219.91 L630.00 224.14 L642.00 228.46 L647.60 230.51" stroke="#ff0000"/>
</g>
<g class="se" font-size="26" fill="#000">
<text x="86.5" y="23.0" text-anchor="end">2.0</text>
<text x="86.5" y="73.2" text-anchor="end">1.5</text>
<text x="86.5" y="123.5" text-anchor="end">1.0</text>
<text x="86.5" y="173.8" text-anchor="end">0.5</text>
<text x="86.5" y="224.1" text-anchor="end">0.0</text>
<text x="86.5" y="274.4" text-anchor="end"><tspan dy="1.4">−</tspan><tspan dx="1.2" dy="-1.4">0.5</tspan></text>
<text x="86.5" y="324.7" text-anchor="end"><tspan dy="1.4">−</tspan><tspan dx="1.2" dy="-1.4">1.0</tspan></text>
<text x="86.5" y="375.0" text-anchor="end"><tspan dy="1.4">−</tspan><tspan dx="1.2" dy="-1.4">1.5</tspan></text>
<text x="100.4" y="394.3" text-anchor="middle">0</text>
<text x="236.8" y="394.3" text-anchor="middle">10</text>
<text x="373.2" y="394.3" text-anchor="middle">20</text>
<text x="509.6" y="394.3" text-anchor="middle">30</text>
<text x="646.0" y="394.3" text-anchor="middle">40</text>
</g><g class="se" font-size="25" fill="#000">
<text x="373.6" y="429.5" text-anchor="middle">r [km]</text>
<text transform="translate(24.5,216.4) rotate(-90)" x="0" y="0">g<tspan font-size="18" dy="-9.5" dx="0.6">rr</tspan><tspan dy="9.5" dx="0.9" letter-spacing="0.3">(r)</tspan></text>
</g>
<g class="sa" font-size="20" fill="#000">
<line x1="478.0" x2="501.2" y1="297.5" y2="297.5" stroke="#000" stroke-width="2"/>
<text x="512.50 524.00 535.90" y="305.8">n=3</text>
<line x1="564.3" x2="587.5" y1="297.5" y2="297.5" stroke="#0000b8" stroke-width="2"/>
<text x="598.80 610.30 622.20" y="305.8">n=4</text>
<line x1="478.0" x2="501.2" y1="343.0" y2="343.0" stroke="#ff8000" stroke-width="2"/>
<text x="512.50 524.00 535.90" y="351.3">n=5</text>
<line x1="564.3" x2="587.5" y1="343.0" y2="343.0" stroke="#ff0000" stroke-width="2"/>
<text x="598.80 610.30 622.20" y="351.3">n=6</text>
</g>
<rect x="223.5" y="228.6" width="163.0" height="100.7" fill="#fff"/>
<line x1="223.5" x2="386.5" y1="279.50" y2="279.50" stroke="#b4b4b4" stroke-width="1"/>
<g clip-path="url(#ci)" fill="none" stroke-width="2.4">
<line x1="234.70" y1="329.53" x2="358.00" y2="228.20" stroke="#000"/>
<line x1="271.60" y1="329.53" x2="383.70" y2="237.90" stroke="#0000b8"/>
<line x1="285.40" y1="329.53" x2="383.70" y2="248.10" stroke="#ff8000"/>
<line x1="289.60" y1="329.53" x2="383.70" y2="252.20" stroke="#ff0000"/>
</g>
<path d="M226.30 329.3v-2.4M236.12 329.3v-1.5M245.95 329.3v-1.5M255.78 329.3v-1.5M265.60 329.3v-2.4M275.42 329.3v-1.5M285.25 329.3v-1.5M295.08 329.3v-1.5M304.90 329.3v-2.4M314.72 329.3v-1.5M324.55 329.3v-1.5M334.38 329.3v-1.5M344.20 329.3v-2.4M354.02 329.3v-1.5M363.85 329.3v-1.5M373.68 329.3v-1.5M383.50 329.3v-2.4M223.5 329.29h2.4M223.5 324.26h1.5M223.5 319.22h1.5M223.5 314.19h1.5M223.5 309.15h1.5M223.5 304.12h2.4M223.5 299.09h1.5M223.5 294.05h1.5M223.5 289.02h1.5M223.5 283.98h1.5M223.5 278.95h2.4M223.5 273.92h1.5M223.5 268.88h1.5M223.5 263.85h1.5M223.5 258.81h1.5M223.5 253.78h2.4M223.5 248.75h1.5M223.5 243.71h1.5M223.5 238.68h1.5M223.5 233.64h1.5M223.5 228.61h2.4" stroke="#808080" stroke-width="0.7" fill="none"/>
<path d="M226.30 228.6v2.4M236.12 228.6v1.5M245.95 228.6v1.5M255.78 228.6v1.5M265.60 228.6v2.4M275.42 228.6v1.5M285.25 228.6v1.5M295.08 228.6v1.5M304.90 228.6v2.4M314.72 228.6v1.5M324.55 228.6v1.5M334.38 228.6v1.5M344.20 228.6v2.4M354.02 228.6v1.5M363.85 228.6v1.5M373.68 228.6v1.5M383.50 228.6v2.4M386.5 329.29h-2.4M386.5 324.26h-1.5M386.5 319.22h-1.5M386.5 314.19h-1.5M386.5 309.15h-1.5M386.5 304.12h-2.4M386.5 299.09h-1.5M386.5 294.05h-1.5M386.5 289.02h-1.5M386.5 283.98h-1.5M386.5 278.95h-2.4M386.5 273.92h-1.5M386.5 268.88h-1.5M386.5 263.85h-1.5M386.5 258.81h-1.5M386.5 253.78h-2.4M386.5 248.75h-1.5M386.5 243.71h-1.5M386.5 238.68h-1.5M386.5 233.64h-1.5M386.5 228.61h-2.4" stroke="#a8a8a8" stroke-width="0.7" fill="none"/>
<rect x="223.5" y="228.6" width="163.0" height="100.7" fill="none" stroke="#808080" stroke-width="1"/>
<g class="sa" font-size="12.3" fill="#666">
<text transform="translate(219.3,233.0) scale(1.07,1)" text-anchor="end">0.010</text>
<text transform="translate(219.3,258.2) scale(1.07,1)" text-anchor="end">0.005</text>
<text transform="translate(219.3,283.3) scale(1.07,1)" text-anchor="end">0.000</text>
<text transform="translate(219.3,308.5) scale(1.07,1)" text-anchor="end">−0.005</text>
<text transform="translate(219.3,333.7) scale(1.07,1)" text-anchor="end">−0.010</text>
<text transform="translate(226.3,345.6) scale(1.07,1)" text-anchor="middle">2.72</text>
<text transform="translate(265.6,345.6) scale(1.07,1)" text-anchor="middle">2.74</text>
<text transform="translate(304.9,345.6) scale(1.07,1)" text-anchor="middle">2.76</text>
<text transform="translate(344.2,345.6) scale(1.07,1)" text-anchor="middle">2.78</text>
<text transform="translate(383.5,345.6) scale(1.07,1)" text-anchor="middle">2.80</text>
</g>
</svg></body></html>
